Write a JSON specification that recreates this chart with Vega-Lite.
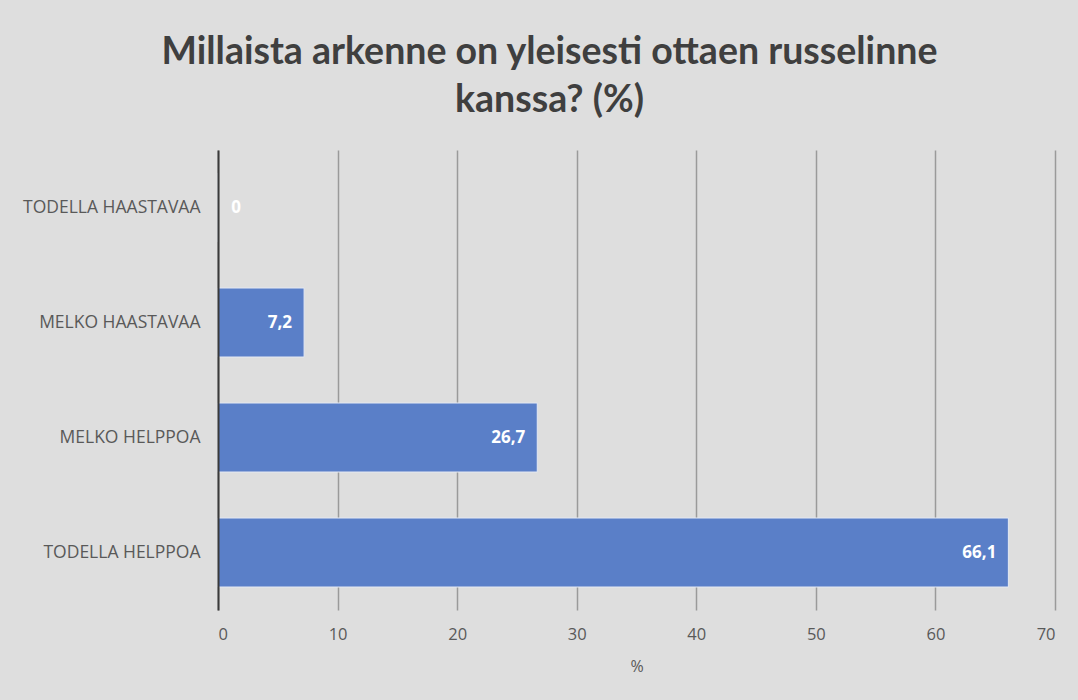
{
  "$schema": "https://vega.github.io/schema/vega-lite/v6.json",
  "autosize": "none",
  "width": 837,
  "height": 460,
  "padding": {"left": 218, "top": 150, "right": 23, "bottom": 90},
  "background": "#dedede",
  "title": {
    "text": ["Millaista arkenne on yleisesti ottaen russelinne", "kanssa? (%)"],
    "font": "Lato",
    "fontSize": 37.5,
    "fontWeight": "bold",
    "color": "#3f3f3f",
    "anchor": "middle",
    "dx": -87,
    "offset": 31,
    "lineHeight": 48
  },
  "config": {
    "view": {"stroke": null},
    "font": "Open Sans"
  },
  "data": {
    "values": [
      {"vastaus": "TODELLA HAASTAVAA", "pct": 0, "label": "0"},
      {"vastaus": "MELKO HAASTAVAA", "pct": 7.2, "label": "7,2"},
      {"vastaus": "MELKO HELPPOA", "pct": 26.7, "label": "26,7"},
      {"vastaus": "TODELLA HELPPOA", "pct": 66.1, "label": "66,1"}
    ]
  },
  "encoding": {
    "y": {
      "field": "vastaus",
      "type": "nominal",
      "sort": ["TODELLA HAASTAVAA", "MELKO HAASTAVAA", "MELKO HELPPOA", "TODELLA HELPPOA"],
      "scale": {"paddingInner": 0.4, "paddingOuter": 0.2},
      "axis": {
        "title": null,
        "zindex": 2,
        "domain": true,
        "domainColor": "#3a3a3a",
        "domainWidth": 2,
        "ticks": false,
        "labelPadding": 18,
        "labelFont": "Open Sans",
        "labelFontSize": 17.5,
        "labelColor": "#595959"
      }
    },
    "x": {
      "field": "pct",
      "type": "quantitative",
      "scale": {"domain": [0, 70], "nice": false},
      "axis": {
        "title": "%",
        "titleFont": "Open Sans",
        "titleFontSize": 16,
        "titleFontWeight": "normal",
        "titleColor": "#595959",
        "titlePadding": 16,
        "values": [0, 10, 20, 30, 40, 50, 60, 70],
        "domain": false,
        "ticks": false,
        "grid": true,
        "gridColor": "#9a9a9a",
        "gridWidth": 1.5,
        "labelPadding": 16,
        "labelFont": "Open Sans",
        "labelFontSize": 16.5,
        "labelColor": "#595959"
      }
    }
  },
  "layer": [
    {
      "mark": {"type": "bar", "color": "#5a7fc8", "stroke": "#e4e9f3", "strokeWidth": 1}
    },
    {
      "mark": {
        "type": "text",
        "align": "right",
        "baseline": "middle",
        "font": "Open Sans",
        "fontSize": 17,
        "fontWeight": "bold",
        "color": "#ffffff",
        "dx": {"expr": "datum.pct == 0 ? 23 : -12"}
      },
      "encoding": {
        "text": {"field": "label"}
      }
    }
  ]
}
